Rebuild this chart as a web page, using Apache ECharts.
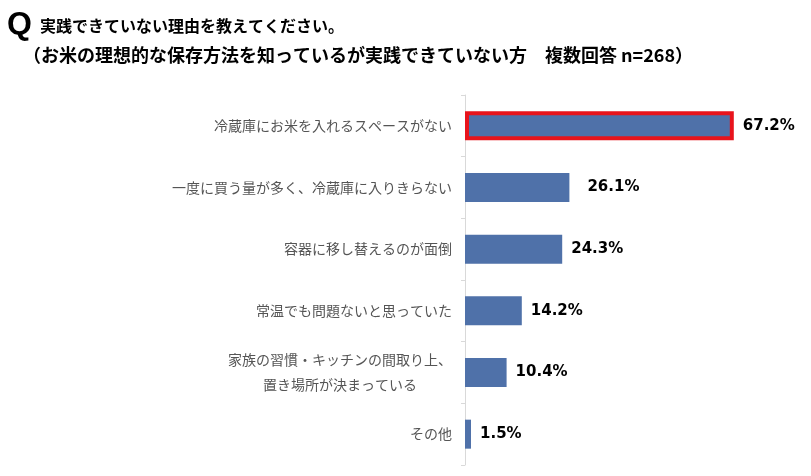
<!DOCTYPE html>
<html>
<head>
<meta charset="utf-8">
<script src="https://cdn.jsdelivr.net/npm/echarts@6/dist/echarts.min.js"></script>
<style>
  html, body { margin: 0; padding: 0; background: #fff; }
  #main { width: 811px; height: 476px; }
</style>
</head>
<body>
<div id="main"></div>
<script>
var categories = [
    '冷蔵庫にお米を入れるスペースがない',
    '一度に買う量が多く、冷蔵庫に入りきらない',
    '容器に移し替えるのが面倒',
    '常温でも問題ないと思っていた',
    '家族の習慣・キッチンの間取り上、\n置き場所が決まっている',
    'その他'
];
var values = [67.2, 26.1, 24.3, 14.2, 10.4, 1.5];

var jp = '"Noto Sans CJK JP", "Noto Sans", sans-serif';

var myChart = echarts.init(document.getElementById('main'));

var seriesData = values.map(function (v, i) {
    var item = { value: v };
    if (i === 0) {
        // 一番上の項目だけ赤枠
        item.itemStyle = { borderColor: '#e8141c', borderWidth: 4 };
    }
    if (i === 1) {
        item.label = { distance: 18 };
    }
    return item;
});

var option = {
    backgroundColor: '#fff',
    animation: false,
    title: [
        {
            text: 'Q',
            left: 7, top: 9, padding: 0,
            textStyle: { fontSize: 32, fontWeight: 'bold', color: '#000', fontFamily: '"Liberation Sans", sans-serif' }
        },
        {
            text: '実践できていない理由を教えてください。',
            left: 40, top: 18, padding: 0,
            textStyle: { fontSize: 16, fontWeight: 'bold', color: '#000', fontFamily: jp }
        },
        {
            text: '（お米の理想的な保存方法を知っているが実践できていない方　複数回答 n=268）',
            left: 23, top: 46, padding: 0,
            textStyle: { fontSize: 18, fontWeight: 'bold', color: '#000', fontFamily: jp }
        }
    ],
    grid: {
        left: 465,
        right: 26,
        top: 95,
        bottom: 11,
        containLabel: false
    },
    xAxis: {
        type: 'value',
        min: 0,
        max: 80,
        show: false
    },
    yAxis: {
        type: 'category',
        inverse: true,
        data: categories,
        axisLine: { show: true, lineStyle: { color: '#d9d9d9', width: 1 } },
        axisTick: { show: true, alignWithLabel: false, length: 4, lineStyle: { color: '#d9d9d9' } },
        axisLabel: {
            margin: 13,
            formatter: function (value) {
                return value.split('\n').map(function (s) { return '{c|' + s + '}'; }).join('\n');
            },
            rich: {
                c: {
                    align: 'center',
                    fontSize: 14,
                    lineHeight: 25,
                    color: '#555555',
                    fontFamily: jp
                }
            }
        }
    },
    series: [
        {
            type: 'bar',
            barWidth: 29,
            data: seriesData,
            itemStyle: { color: '#4f71a9' },
            label: {
                show: true,
                position: 'right',
                distance: 9,
                formatter: function (p) { return p.value.toFixed(1) + '%'; },
                fontSize: 15,
                fontWeight: 'bold',
                color: '#000',
                fontFamily: '"DejaVu Sans", sans-serif'
            }
        }
    ]
};

myChart.setOption(option);
</script>
</body>
</html>
